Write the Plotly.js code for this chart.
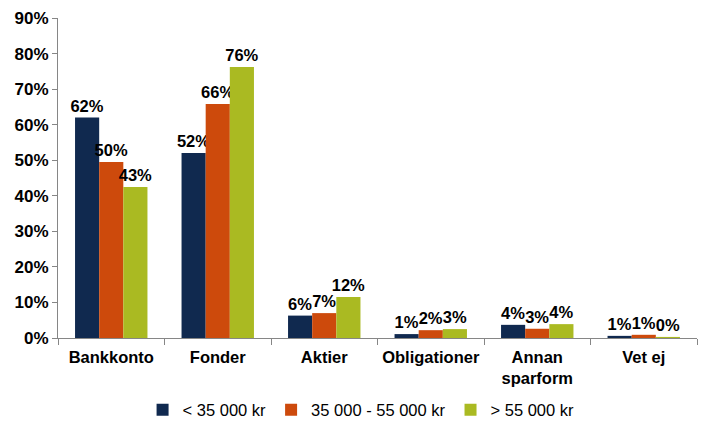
<!DOCTYPE html>
<html>
<head>
<meta charset="utf-8">
<script src="https://cdn.plot.ly/plotly-3.0.1.min.js"></script>
<style>html,body{margin:0;padding:0;background:#fff;}#chart{width:715px;height:435px;}</style>
</head>
<body>
<div id="chart"></div>
<script>
var categories = ["Bankkonto", "Fonder", "Aktier", "Obligationer", "Annan<br>sparform", "Vet ej"];
var seriesNames = ["< 35 000 kr", "35 000 - 55 000 kr", "> 55 000 kr"];
var low = [0.62, 0.52, 0.063, 0.011, 0.037, 0.006];
var mid = [0.495, 0.658, 0.070, 0.022, 0.026, 0.009];
var high = [0.425, 0.762, 0.115, 0.025, 0.039, 0.003];
var lowLabels = ["62%", "52%", "6%", "1%", "4%", "1%"];
var midLabels = ["50%", "66%", "7%", "2%", "3%", "1%"];
var highLabels = ["43%", "76%", "12%", "3%", "4%", "0%"];
var colors = ["#10294F", "#CD4A0C", "#AABA22"];

var font = "Liberation Sans, Arial, sans-serif";
function mk(name, y, labels, color) {
  return {
    type: "bar", name: name, x: categories, y: y,
    text: labels, textposition: "outside", cliponaxis: false,
    constraintext: "none",
    textfont: {family: font, size: 16.5, color: "#000", weight: "bold"},
    marker: {color: color},
    hoverinfo: "none"
  };
}
var data = [
  mk(seriesNames[0], low, lowLabels, colors[0]),
  mk(seriesNames[1], mid, midLabels, colors[1]),
  mk(seriesNames[2], high, highLabels, colors[2])
];
var layout = {
  width: 715, height: 435,
  margin: {l: 58, r: 18, t: 18, b: 97, autoexpand: false},
  paper_bgcolor: "#fff", plot_bgcolor: "#fff",
  barmode: "group", bargap: 0.32, bargroupgap: 0,
  showlegend: true,
  legend: {orientation: "h", xref: "container", yref: "container",
           x: 0.505, xanchor: "center", y: 0.0575, yanchor: "middle",
           itemwidth: 30, tracegroupgap: 0,
           font: {family: font, size: 16.5, color: "#000"}},
  xaxis: {
    showline: true, linecolor: "#868686", linewidth: 1,
    ticks: "outside", tickson: "boundaries", ticklen: 6, tickcolor: "#868686",
    ticklabelstandoff: 4, tickangle: 0, automargin: false,
    tickfont: {family: font, size: 16.5, color: "#000", weight: "bold"},
    showgrid: false, zeroline: false
  },
  yaxis: {
    range: [0, 0.9], dtick: 0.1, tickformat: ".0%", automargin: false,
    showline: true, linecolor: "#868686", linewidth: 1,
    ticks: "outside", ticklen: 5, tickcolor: "#868686",
    tickfont: {family: font, size: 17, color: "#000", weight: "bold"},
    showgrid: false, zeroline: false
  },
  font: {family: font}
};
Plotly.newPlot("chart", data, layout, {displayModeBar: false, staticPlot: true});
</script>
</body>
</html>
